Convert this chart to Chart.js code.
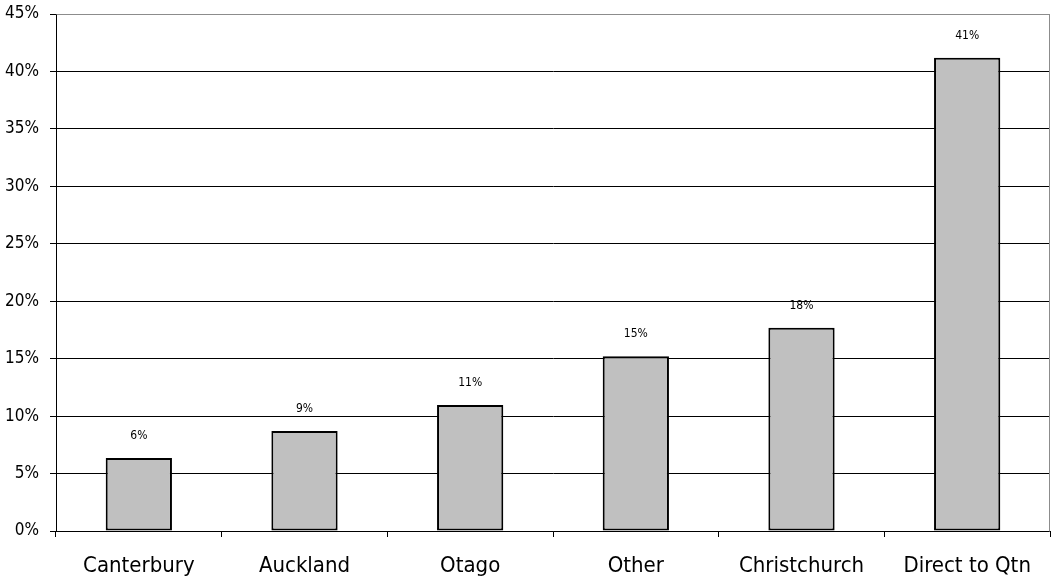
<!DOCTYPE html>
<html>
<head>
<meta charset="utf-8">
<script src="https://cdn.jsdelivr.net/npm/chart.js@4"></script>
<style>
  html, body { margin: 0; padding: 0; background: #fff; }
  #wrap { width: 1051px; height: 583px; }
</style>
</head>
<body>
<div id="wrap"><canvas id="c" width="1051" height="583"></canvas></div>
<script>
const categories = ['Canterbury', 'Auckland', 'Otago', 'Other', 'Christchurch', 'Direct to Qtn'];
const shares = [6.35, 8.7, 10.97, 15.2, 17.7, 41.2];
const yTicks = [0, 5, 10, 15, 20, 25, 30, 35, 40, 45];

const FONT = '"DejaVu Sans Condensed", "DejaVu Sans", sans-serif';

// value labels above each bar, rounded to whole percent
const valueLabels = {
  id: 'valueLabels',
  afterDatasetsDraw(chart) {
    const ctx = chart.ctx;
    const meta = chart.getDatasetMeta(0);
    ctx.save();
    ctx.font = '12px ' + FONT;
    ctx.fillStyle = '#000';
    ctx.textAlign = 'center';
    ctx.textBaseline = 'alphabetic';
    meta.data.forEach((bar, i) => {
      ctx.fillText(Math.round(shares[i]) + '%', bar.x, bar.y - 19);
    });
    ctx.restore();
  }
};

// light frame around the plot area (top and right edges)
const plotFrame = {
  id: 'plotFrame',
  beforeDatasetsDraw(chart) {
    const a = chart.chartArea;
    const ctx = chart.ctx;
    ctx.save();
    ctx.strokeStyle = '#8c8c8c';
    ctx.lineWidth = 1;
    ctx.beginPath();
    ctx.moveTo(Math.round(a.left) + 0.5, Math.round(a.top) + 0.5);
    ctx.lineTo(Math.round(a.right) - 0.5, Math.round(a.top) + 0.5);
    ctx.lineTo(Math.round(a.right) - 0.5, Math.round(a.bottom) + 0.5);
    ctx.stroke();
    ctx.restore();
  }
};

new Chart(document.getElementById('c'), {
  type: 'bar',
  data: {
    labels: categories,
    datasets: [{
      data: shares,
      backgroundColor: '#c0c0c0',
      borderColor: '#000',
      borderWidth: 2,
      borderSkipped: false,
      barPercentage: 0.8,
      categoryPercentage: 0.5
    }]
  },
  options: {
    responsive: false,
    animation: false,
    devicePixelRatio: 1,
    layout: { padding: { top: 14, right: 1, left: 0, bottom: 0 } },
    plugins: { legend: { display: false }, tooltip: { enabled: false } },
    scales: {
      x: {
        grid: { offset: true, drawOnChartArea: false, color: '#000', tickLength: 6 },
        border: { color: '#000', width: 1 },
        ticks: { color: '#000', font: { family: FONT, size: 22 }, padding: 16, maxRotation: 0 },
        afterFit(scale) { scale.height = 52; }
      },
      y: {
        min: 0, max: 45,
        afterBuildTicks(scale) { scale.ticks = yTicks.map(v => ({ value: v })); },
        grid: {
          color: ctx => (ctx.tick && ctx.tick.value === 45) ? '#8c8c8c' : '#000',
          tickColor: '#000',
          tickLength: 6
        },
        border: { color: '#000', width: 1 },
        ticks: {
          color: '#000', font: { family: FONT, size: 17, lineHeight: 0.3 }, padding: 11,
          callback: v => v + '%'
        },
        afterFit(scale) { scale.width = 56; }
      }
    }
  },
  plugins: [plotFrame, valueLabels]
});
</script>
</body>
</html>
